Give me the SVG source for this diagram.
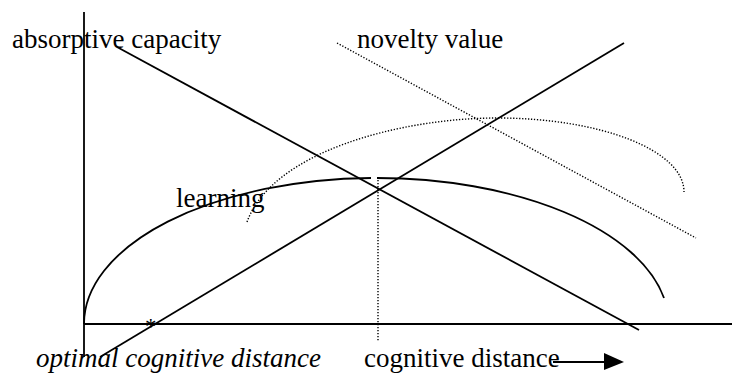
<svg xmlns="http://www.w3.org/2000/svg" width="732" height="381" viewBox="0 0 732 381">
<style>
.s{fill:none;stroke:#000;stroke-width:1.8}
.d{fill:none;stroke:#000;stroke-width:1.4;stroke-dasharray:1.3 1.7}
.t{font-family:"Liberation Serif","Times New Roman",serif;font-size:27px;fill:#000}
.i{font-style:italic}
</style>
<rect width="732" height="381" fill="#fff"/>
<g id="connectors">
<line id="y-axis" class="s" x1="84" y1="12" x2="84" y2="357"/>
<line id="x-axis" class="s" x1="84" y1="324" x2="732" y2="324"/>
<line id="absorptive-line" class="s" x1="117" y1="47" x2="639" y2="330"/>
<line id="novelty-rise" class="s" x1="100" y1="357" x2="624" y2="43"/>
<line id="novelty-dotted" class="d" x1="337" y1="43" x2="696" y2="238"/>
<path id="learning-curve" class="s" d="M84,324 A292,146 0 0 1 371,178 M377,178 A292,146 0 0 1 664,298"/>
<path id="dotted-curve" class="d" d="M247,222 C272,152 400,118 497,118 C600,118 684,150 684,192"/>
<line id="optimum-drop" class="d" x1="378" y1="180" x2="378" y2="342"/>
<line id="arrow-shaft" class="s" x1="553" y1="362" x2="606" y2="362"/>
<polygon id="arrow-head" points="604,353 624,362 604,370" fill="#000"/>
</g>
<g id="label-absorptive"><text class="t" x="12" y="48">absorptive capacity</text></g>
<g id="label-novelty"><text class="t" x="357" y="48">novelty value</text></g>
<g id="label-learning"><text class="t" x="176" y="207">learning</text></g>
<g id="label-star"><text class="t" x="145" y="334" style="font-size:23px">*</text></g>
<g id="label-optimal"><text class="t i" x="36" y="367">optimal cognitive distance</text></g>
<g id="label-distance"><text class="t" x="364" y="367">cognitive distance</text></g>
</svg>
